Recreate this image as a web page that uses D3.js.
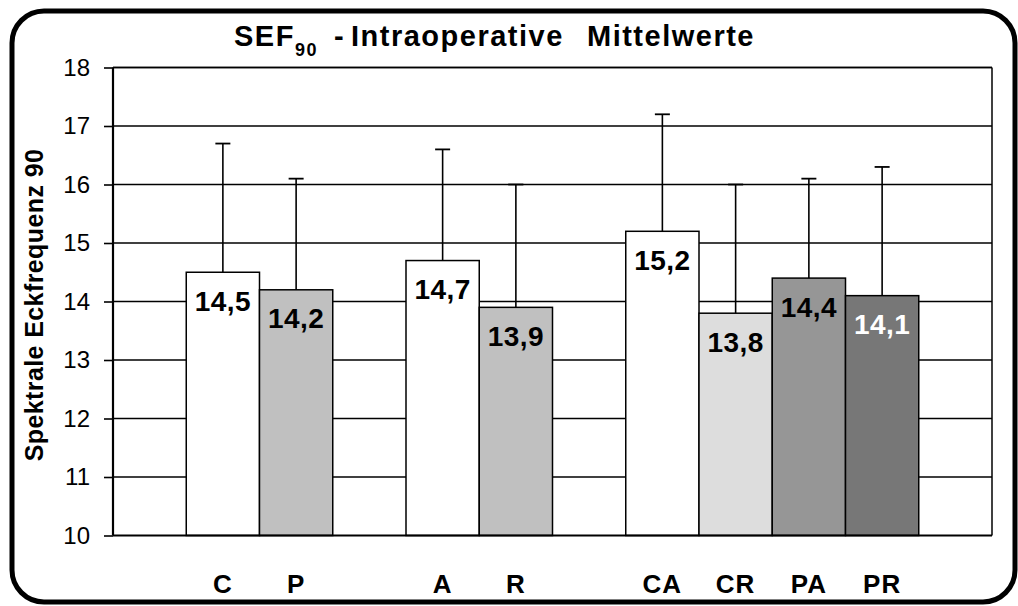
<!DOCTYPE html>
<html>
<head>
<meta charset="utf-8">
<script src="https://cdn.jsdelivr.net/npm/d3@7"></script>
<style>
  html, body { margin: 0; padding: 0; background: #ffffff; }
  svg { display: block; font-family: "Liberation Sans", Arial, sans-serif; }
</style>
</head>
<body>
<svg id="chart" width="1018" height="606"></svg>
<script>
// ---- data ----
const categories = ["C", "P", "A", "R", "CA", "CR", "PA", "PR"];
const groups     = [1, 1, 2, 2, 3, 3, 3, 3];
const means      = [14.5, 14.2, 14.7, 13.9, 15.2, 13.8, 14.4, 14.1];
const errorTops  = [16.7, 16.1, 16.6, 16.0, 17.2, 16.0, 16.1, 16.3];
const yTicks     = [10, 11, 12, 13, 14, 15, 16, 17, 18];
const titleMain  = "SEF";
const titleSub   = "90";
const titleRest  = ["-", "Intraoperative", "Mittelwerte"];
const yLabel     = "Spektrale Eckfrequenz 90";

// ---- styles ----
const barColors   = ["#ffffff", "#c0c0c0", "#ffffff", "#c0c0c0", "#ffffff", "#dddddd", "#969696", "#777777"];
const labelColors = ["#000", "#000", "#000", "#000", "#000", "#000", "#000", "#ffffff"];

const svg = d3.select("#chart");
const plot = { left: 113, right: 992, top: 67.5, bottom: 535.5 };

// slot domain: gap slot before each group and one at the end
const slots = [];
let prevGroup = null;
categories.forEach((c, i) => {
  if (groups[i] !== prevGroup) { slots.push("gap" + groups[i]); prevGroup = groups[i]; }
  slots.push(c);
});
slots.push("gapEnd");

const x = d3.scaleBand().domain(slots).range([plot.left, plot.right]).padding(0);
const y = d3.scaleLinear().domain([10, 18]).range([plot.bottom, plot.top]);
const fillOf = d3.scaleOrdinal(categories, barColors);
const labelColorOf = d3.scaleOrdinal(categories, labelColors);
const fmt = d3.formatLocale({ decimal: ",", thousands: ".", grouping: [3], currency: ["", "€"] }).format(".1f");

const data = categories.map((c, i) => ({ cat: c, mean: means[i], top: errorTops[i] }));

// outer rounded frame
svg.append("rect")
  .attr("x", 12).attr("y", 11).attr("width", 1003).attr("height", 591)
  .attr("rx", 32).attr("ry", 32)
  .attr("fill", "#fff").attr("stroke", "#000").attr("stroke-width", 5);

// gridlines
svg.append("g").selectAll("line").data(yTicks.filter(t => t > 10)).join("line")
  .attr("x1", plot.left).attr("x2", plot.right)
  .attr("y1", d => y(d)).attr("y2", d => y(d))
  .attr("stroke", "#000").attr("stroke-width", 1.5);

// right border of plot area
svg.append("line")
  .attr("x1", plot.right).attr("x2", plot.right)
  .attr("y1", plot.top).attr("y2", plot.bottom)
  .attr("stroke", "#000").attr("stroke-width", 1.5);

// error bars (upper only)
const eb = svg.append("g");
eb.selectAll("line.v").data(data).join("line").attr("class", "v")
  .attr("x1", d => x(d.cat) + x.bandwidth() / 2).attr("x2", d => x(d.cat) + x.bandwidth() / 2)
  .attr("y1", d => y(d.mean)).attr("y2", d => y(d.top))
  .attr("stroke", "#000").attr("stroke-width", 1.6);
eb.selectAll("line.cap").data(data).join("line").attr("class", "cap")
  .attr("x1", d => x(d.cat) + x.bandwidth() / 2 - 7.5).attr("x2", d => x(d.cat) + x.bandwidth() / 2 + 7.5)
  .attr("y1", d => y(d.top)).attr("y2", d => y(d.top))
  .attr("stroke", "#000").attr("stroke-width", 1.8);

// bars
svg.append("g").selectAll("rect").data(data).join("rect")
  .attr("x", d => x(d.cat)).attr("width", x.bandwidth())
  .attr("y", d => y(d.mean)).attr("height", d => y(10) - y(d.mean))
  .attr("fill", d => fillOf(d.cat)).attr("stroke", "#000").attr("stroke-width", 1.5);

// value labels
svg.append("g").selectAll("text").data(data).join("text")
  .attr("x", d => x(d.cat) + x.bandwidth() / 2)
  .attr("y", d => y(d.mean) + 29)
  .attr("text-anchor", "middle").attr("dominant-baseline", "central")
  .attr("font-size", 28).attr("font-weight", "bold").attr("letter-spacing", 0.5)
  .attr("fill", d => labelColorOf(d.cat))
  .text(d => fmt(d.mean));

// y axis
const yAxis = d3.axisLeft(y).tickValues(yTicks).tickSize(9).tickPadding(14).tickFormat(d3.format("d"));
const gy = svg.append("g").attr("transform", `translate(${plot.left},0)`).call(yAxis);
gy.select(".domain").attr("stroke", "#000").attr("stroke-width", 2.2).attr("d", `M0,${plot.top}V${plot.bottom}`);
gy.selectAll(".tick line").attr("stroke", "#000").attr("stroke-width", 1.6);
gy.selectAll(".tick text").attr("font-size", 24).attr("fill", "#000")
  .attr("font-family", "'Liberation Sans', Arial, sans-serif");

// x axis (baseline + labels)
const xAxis = d3.axisBottom(x).tickValues(categories).tickSize(0).tickPadding(39);
const gx = svg.append("g").attr("transform", `translate(0,${plot.bottom})`).call(xAxis);
gx.select(".domain").attr("stroke", "#000").attr("stroke-width", 2.2).attr("d", `M${plot.left},0H${plot.right}`);
gx.selectAll(".tick text").attr("font-size", 26).attr("font-weight", "bold").attr("fill", "#000")
  .attr("letter-spacing", 1)
  .attr("font-family", "'Liberation Sans', Arial, sans-serif");

// top border of plot area
svg.append("line")
  .attr("x1", plot.left).attr("x2", plot.right)
  .attr("y1", plot.top).attr("y2", plot.top)
  .attr("stroke", "#000").attr("stroke-width", 1.5);

// y-axis title
svg.append("text")
  .attr("transform", "translate(43,305) rotate(-90)")
  .attr("text-anchor", "middle")
  .attr("font-size", 25).attr("font-weight", "bold").attr("letter-spacing", 0.4)
  .text(yLabel);

// chart title
const t = svg.append("text").attr("y", 45.7).attr("font-size", 29).attr("font-weight", "bold").attr("letter-spacing", 1.5);
t.append("tspan").attr("x", 234).text(titleMain);
t.append("tspan").attr("dy", 10).attr("font-size", 18).text(titleSub);
t.append("tspan").attr("x", 334).attr("dy", -10).text(titleRest[0]);
t.append("tspan").attr("x", 351).text(titleRest[1]);
t.append("tspan").attr("x", 587).text(titleRest[2]);
</script>
</body>
</html>
